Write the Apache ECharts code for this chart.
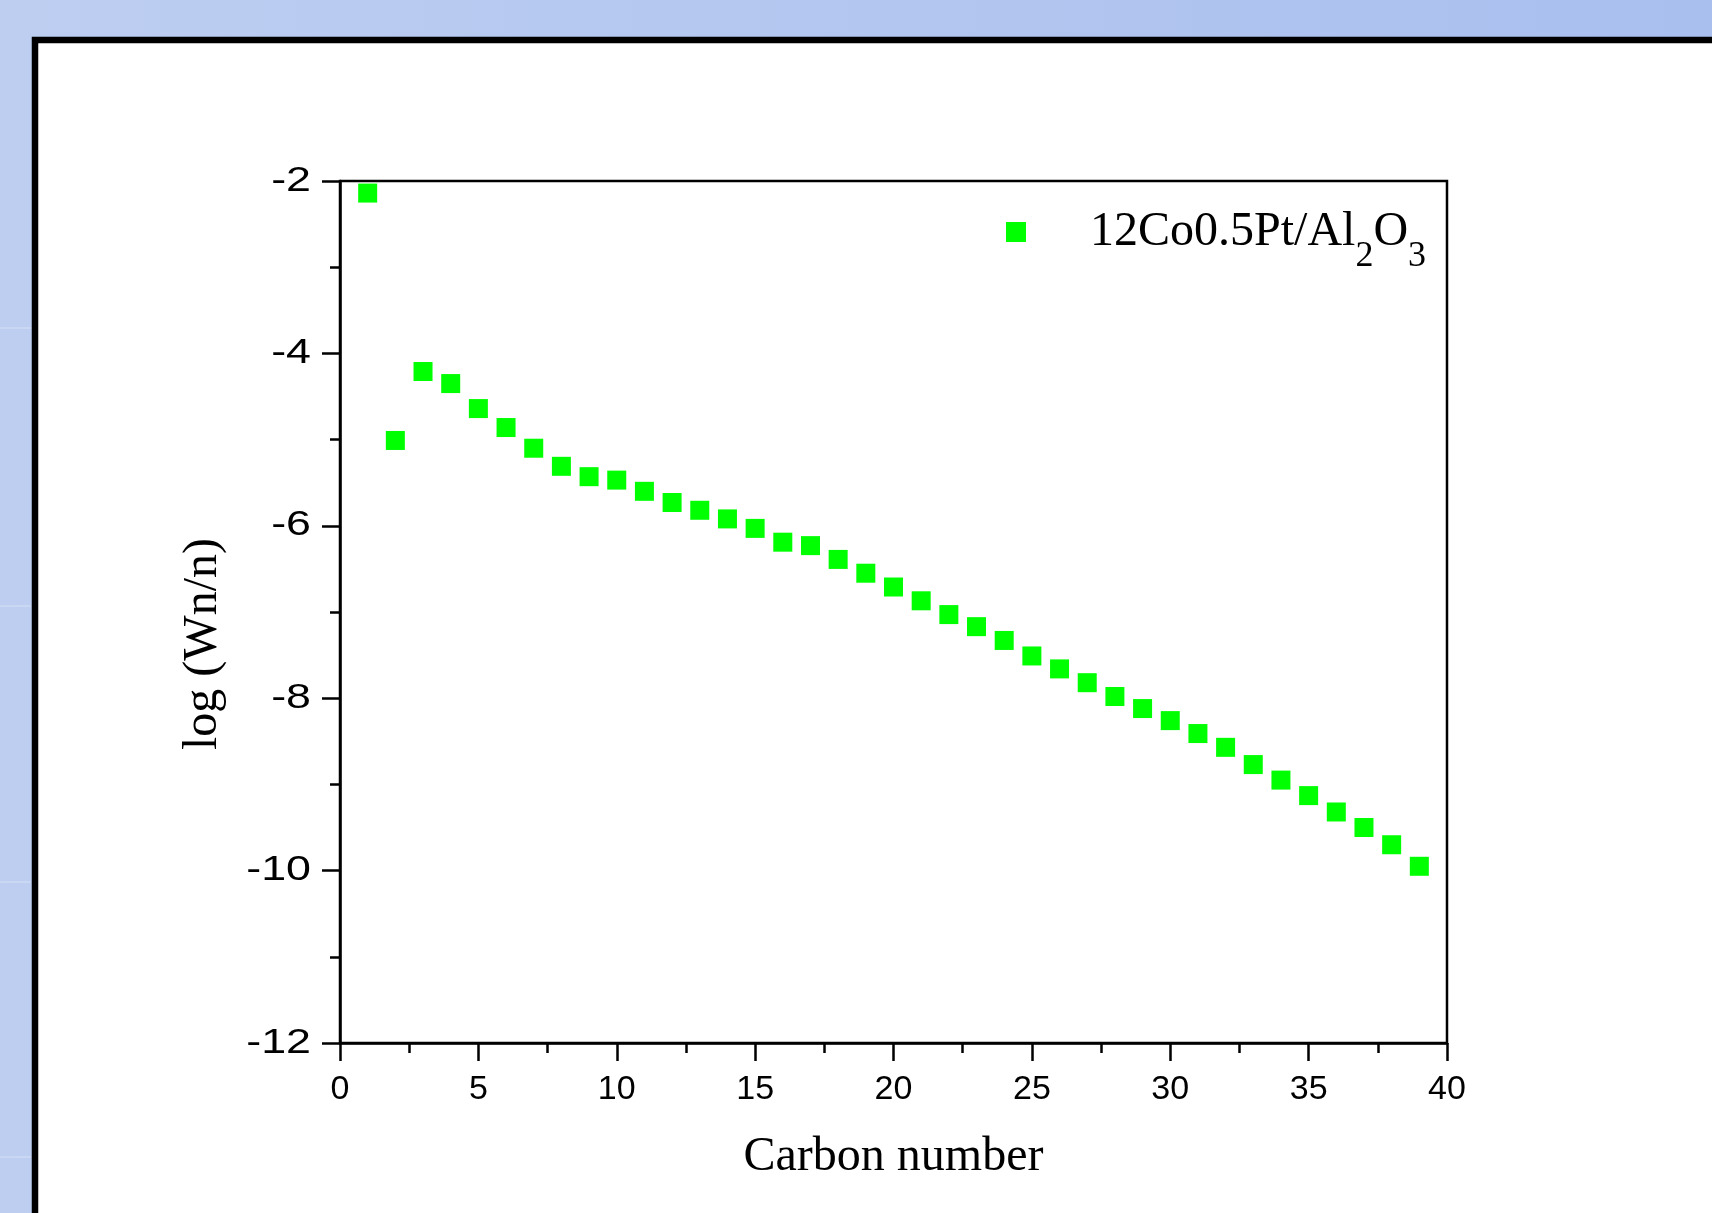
<!DOCTYPE html>
<html>
<head>
<meta charset="utf-8">
<script src="https://cdn.jsdelivr.net/npm/echarts@6/dist/echarts.min.js"></script>
<style>
html,body{margin:0;padding:0;width:1712px;height:1213px;overflow:hidden;}
#chart{width:1712px;height:1213px;}
</style>
</head>
<body>
<div id="chart"></div>
<script>
// ---- data ----
const carbonNumbers = [1,2,3,4,5,6,7,8,9,10,11,12,13,14,15,16,17,18,19,20,21,22,23,24,25,26,27,28,29,30,31,32,33,34,35,36,37,38,39];
const logWn = [-2.14,-5.01,-4.21,-4.35,-4.64,-4.86,-5.10,-5.31,-5.43,-5.47,-5.60,-5.73,-5.82,-5.92,-6.03,-6.19,-6.23,-6.39,-6.55,-6.71,-6.87,-7.03,-7.17,-7.33,-7.51,-7.66,-7.82,-7.98,-8.12,-8.26,-8.41,-8.57,-8.77,-8.95,-9.13,-9.32,-9.50,-9.70,-9.95];
const yTickValues = [-12, -10, -8, -6, -4, -2];
const seriesName = '12Co0.5Pt/Al2O3';
const xTitle = 'Carbon number';
const yTitle = 'log (Wn/n)';

const points = carbonNumbers.map((c, i) => [c, logWn[i]]);

const chart = echarts.init(document.getElementById('chart'), null, {renderer: 'canvas'});
const serif = '"Liberation Serif", "Times New Roman", serif';
const sans = '"Liberation Sans", Arial, sans-serif';

const axisCommon = {
  axisLine: {show: true, onZero: false, lineStyle: {color: '#000', width: 2.5}},
  axisTick: {show: true, inside: false, length: 18, lineStyle: {color: '#000', width: 2.5}},
  minorTick: {show: true, splitNumber: 2, length: 10, lineStyle: {color: '#000', width: 2.5}},
  splitLine: {show: false},
  minorSplitLine: {show: false},
  axisLabel: {color: '#000', fontFamily: sans, fontSize: 34, margin: 30}
};

const baseGraphics = [
  {type: 'rect', z: -10, shape: {x: 35, y: 40, width: 1720, height: 1220},
   style: {fill: '#fff', stroke: '#000', lineWidth: 6.5}},
  {type: 'line', z: -10, shape: {x1: 0, y1: 328, x2: 31, y2: 328}, style: {stroke: 'rgba(255,255,255,0.4)', lineWidth: 1}},
  {type: 'line', z: -10, shape: {x1: 0, y1: 606, x2: 31, y2: 606}, style: {stroke: 'rgba(255,255,255,0.4)', lineWidth: 1}},
  {type: 'line', z: -10, shape: {x1: 0, y1: 882, x2: 31, y2: 882}, style: {stroke: 'rgba(255,255,255,0.4)', lineWidth: 1}},
  {type: 'line', z: -10, shape: {x1: 0, y1: 1157, x2: 31, y2: 1157}, style: {stroke: 'rgba(255,255,255,0.4)', lineWidth: 1}},
  {type: 'text', x: 203, y: 644, rotation: Math.PI / 2,
   style: {text: yTitle, font: '48px ' + serif, fill: '#000', textAlign: 'center', textVerticalAlign: 'middle'}}
];

chart.setOption({
  animation: false,
  backgroundColor: {
    type: 'linear', x: 0, y: 0, x2: 1, y2: 0,
    colorStops: [{offset: 0, color: '#BDCEF1'}, {offset: 1, color: '#A9BFEE'}]
  },
  graphic: baseGraphics,
  grid: {left: 340, top: 181, right: 265, bottom: 170, show: true, borderColor: '#000', borderWidth: 2.5, backgroundColor: 'transparent'},
  legend: {
    show: true,
    left: 1006, top: 189, padding: 0,
    icon: 'rect', itemWidth: 20, itemHeight: 20,
    data: [seriesName],
    formatter: function () {
      return '{a0|12Co0.5Pt/Al}{s|2}{a|O}{s|3}';
    },
    textStyle: {
      rich: {
        a0: {fontFamily: serif, fontSize: 48, color: '#000', lineHeight: 56, padding: [0, 0, 0, 59]},
        a: {fontFamily: serif, fontSize: 48, color: '#000', lineHeight: 56},
        s: {fontFamily: serif, fontSize: 36, color: '#000', lineHeight: 56, padding: [50, 0, 0, 0]}
      }
    }
  },
  xAxis: Object.assign({}, axisCommon, {
    type: 'value', min: 0, max: 40, interval: 5,
    name: xTitle, nameLocation: 'middle', nameGap: 90,
    nameTextStyle: {fontFamily: serif, fontSize: 48, color: '#000'}
  }),
  yAxis: Object.assign({}, axisCommon, {
    type: 'value', min: -12, max: -2, interval: 2,
    axisLabel: {show: false}
  }),
  series: [{
    name: seriesName,
    type: 'scatter',
    symbol: 'rect',
    symbolSize: 19,
    itemStyle: {color: '#00FF00', opacity: 1},
    data: points
  }]
});

// y tick labels (horizontally widened like the reference), placed through the axis scale
const axisX = chart.convertToPixel({xAxisIndex: 0}, 0);
const yLabelGraphics = yTickValues.map(v => ({
  type: 'text',
  x: axisX - 29,
  y: chart.convertToPixel({yAxisIndex: 0}, v),
  scaleX: 1.28,
  style: {text: String(v), font: '35px ' + sans, fill: '#000', textAlign: 'right', textVerticalAlign: 'middle'}
}));
chart.setOption({graphic: baseGraphics.concat(yLabelGraphics)});
</script>
</body>
</html>
